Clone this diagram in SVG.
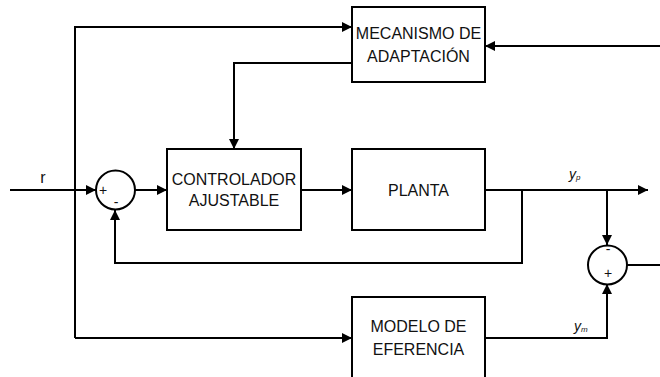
<svg xmlns="http://www.w3.org/2000/svg" width="660" height="377" viewBox="0 0 660 377">
<style>
.ln{fill:none;stroke:#000;stroke-width:2}
.box{fill:#fff;stroke:#000;stroke-width:2}
.t{font-family:"Liberation Sans",Arial,sans-serif;font-size:16px;fill:#111;text-anchor:middle}
.s{font-family:"Liberation Sans",Arial,sans-serif;font-size:14px;fill:#111;text-anchor:middle}
.v{font-family:"Liberation Sans",Arial,sans-serif;font-style:italic;fill:#111}
</style>
<defs>
<marker id="ah" viewBox="0 0 10 10" refX="10" refY="5" markerWidth="5.5" markerHeight="5" markerUnits="strokeWidth" orient="auto">
<path d="M0,0 L10,5 L0,10 z" fill="#000"/>
</marker>
</defs>
<rect width="660" height="377" fill="#fff"/>
<g id="connectors">
<path class="ln" d="M10,190 H96" marker-end="url(#ah)"/>
<path class="ln" d="M75,338 V27 H352" marker-end="url(#ah)"/>
<path class="ln" d="M75,338 H352" marker-end="url(#ah)"/>
<path class="ln" d="M352,63 H234 V149" marker-end="url(#ah)"/>
<path class="ln" d="M660,46 H485" marker-end="url(#ah)"/>
<path class="ln" d="M135,190 H167" marker-end="url(#ah)"/>
<path class="ln" d="M301,190 H352" marker-end="url(#ah)"/>
<path class="ln" d="M485,190 H648" marker-end="url(#ah)"/>
<path class="ln" d="M522,190 V263 H115 V210" marker-end="url(#ah)"/>
<path class="ln" d="M607,190 V245" marker-end="url(#ah)"/>
<path class="ln" d="M485,338 H607 V284" marker-end="url(#ah)"/>
<path class="ln" d="M627,265 H660"/>
</g>
<g id="r-label"><text class="t" x="43" y="183">r</text></g>
<g id="sum1">
<circle class="box" cx="115.5" cy="190" r="19.5"/>
<text class="s" x="103" y="195">+</text>
<text class="s" x="116" y="207">-</text>
</g>
<g id="controlador">
<rect class="box" x="167" y="149" width="134" height="81"/>
<text class="t" x="234" y="185">CONTROLADOR</text>
<text class="t" x="234" y="206">AJUSTABLE</text>
</g>
<g id="planta">
<rect class="box" x="352" y="149" width="133" height="81"/>
<text class="t" x="418.5" y="196">PLANTA</text>
</g>
<g id="mecanismo">
<rect class="box" x="352" y="7" width="133" height="75"/>
<text class="t" x="418.5" y="39">MECANISMO DE</text>
<text class="t" x="418.5" y="62">ADAPTACIÓN</text>
</g>
<g id="modelo">
<rect class="box" x="352" y="297" width="133" height="90"/>
<text class="t" x="418.5" y="332">MODELO DE</text>
<text class="t" x="418.5" y="355">EFERENCIA</text>
</g>
<g id="sum2">
<circle class="box" cx="607.5" cy="265" r="19.5"/>
<text class="s" x="608" y="254">-</text>
<text class="s" x="608" y="278">+</text>
</g>
<g id="yp-label"><text class="v" x="569" y="179" font-size="14">y<tspan font-size="8" dy="1">p</tspan></text></g>
<g id="ym-label"><text class="v" x="574" y="331" font-size="14">y<tspan font-size="8" dy="1">m</tspan></text></g>
</svg>
